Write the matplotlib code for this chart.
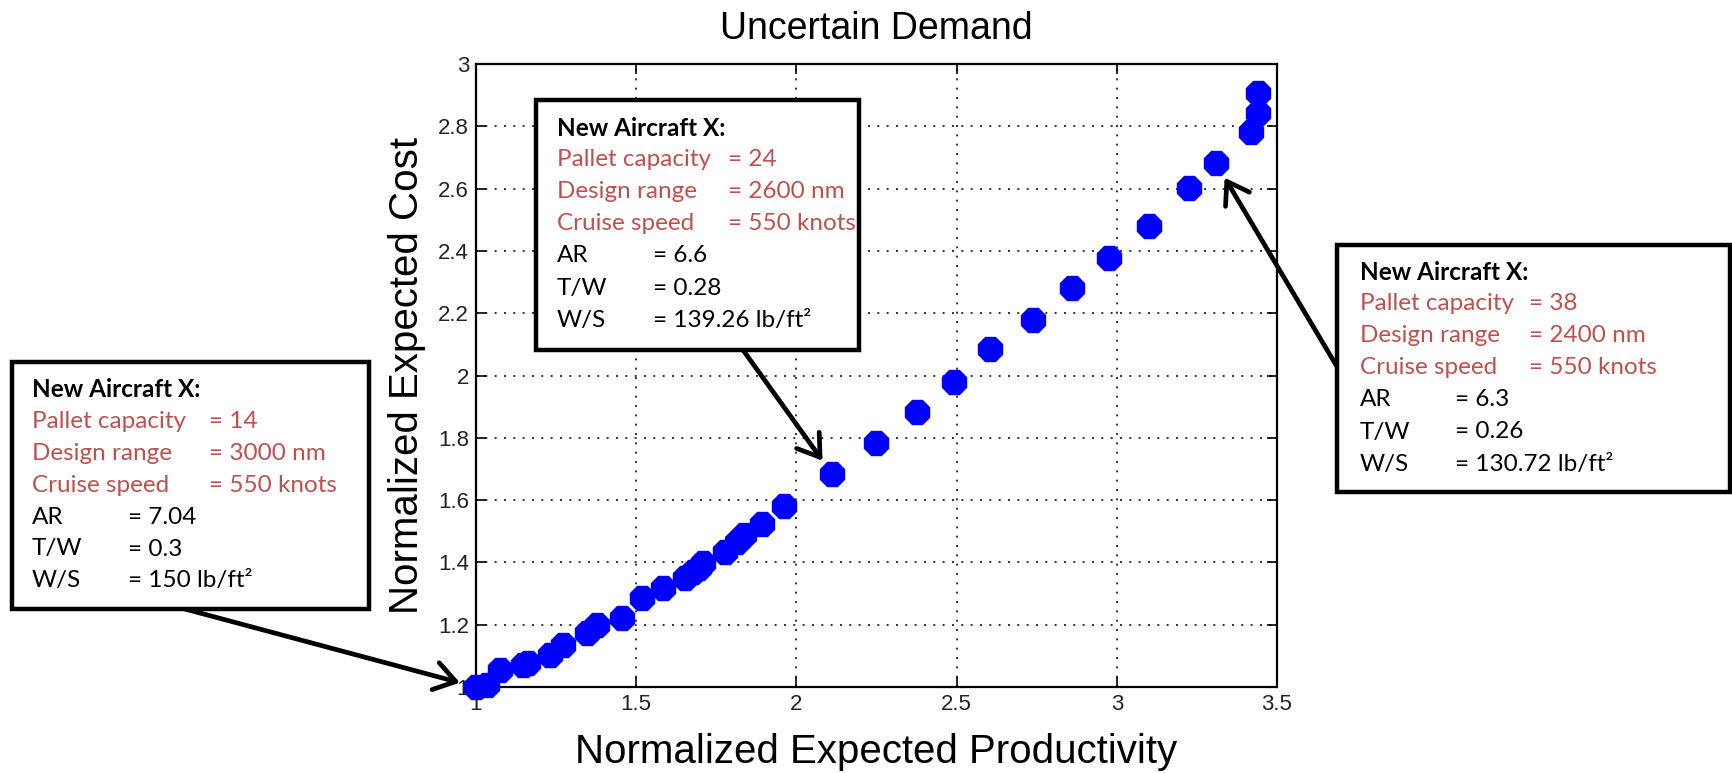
import matplotlib.pyplot as plt
from matplotlib.patches import Rectangle
from matplotlib.ticker import FuncFormatter

# design points: normalized expected productivity vs normalized expected cost
x_prod = [1.000, 1.033, 1.075, 1.148, 1.163, 1.231, 1.273, 1.346, 1.377, 1.455,
          1.517, 1.585, 1.652, 1.678, 1.695, 1.709, 1.777, 1.814, 1.835, 1.892,
          1.962, 2.112, 2.248, 2.376, 2.491, 2.605, 2.737, 2.859, 2.976, 3.100,
          3.224, 3.310, 3.418, 3.442, 3.442]
y_cost = [1.000, 1.006, 1.055, 1.071, 1.076, 1.103, 1.135, 1.172, 1.199, 1.221,
          1.285, 1.317, 1.349, 1.370, 1.383, 1.397, 1.434, 1.466, 1.488, 1.523,
          1.582, 1.683, 1.782, 1.883, 1.978, 2.084, 2.178, 2.280, 2.376, 2.479,
          2.601, 2.681, 2.783, 2.842, 2.906]

x_ticks = [1, 1.5, 2, 2.5, 3, 3.5]
y_ticks = [1, 1.2, 1.4, 1.6, 1.8, 2, 2.2, 2.4, 2.6, 2.8, 3]

# highlighted aircraft (index into the design points above)
picked = [0, 21, 31]
pallet_capacity = ["14", "24", "38"]
design_range = ["3000", "2600", "2400"]
cruise_speed = ["550", "550", "550"]
aspect_ratio = ["7.04", "6.6", "6.3"]
thrust_weight = ["0.3", "0.28", "0.26"]
wing_loading = ["150", "139.26", "130.72"]

W, H = 1733, 773
RED = "#C0504D"

def fpos(x, y):
    # pixel position (from top-left) -> figure fraction
    return x / W, 1 - y / H

fig = plt.figure(figsize=(W / 100, H / 100), dpi=100)
ax = fig.add_axes([476 / W, 1 - 687 / H, (1277 - 476) / W, (687 - 64) / H])

ax.plot(x_prod, y_cost, linestyle="none", marker="8", markersize=18,
        color="#0000FF", markeredgecolor="#0000FF", clip_on=False, zorder=3)

ax.set_xlim(1, 3.5)
ax.set_ylim(1, 3)
ax.set_xticks(x_ticks)
ax.set_yticks(y_ticks)
fmt = FuncFormatter(lambda v, p: "%g" % v)
ax.xaxis.set_major_formatter(fmt)
ax.yaxis.set_major_formatter(fmt)
ax.tick_params(direction="in", length=7, width=1.2, top=True, right=True,
               labelsize=16, pad=5, colors="black")
for lab in ax.get_xticklabels() + ax.get_yticklabels():
    lab.set_family("Liberation Sans")
    lab.set_color("#222222")
ax.grid(True, color="#333333", linestyle=(0, (1, 3.8)), linewidth=1.4)
for s in ax.spines.values():
    s.set_linewidth(1.6)
    s.set_color("black")

ax.set_title("Uncertain Demand", fontsize=27, family="Liberation Sans", pad=18)
ax.set_xlabel("Normalized Expected Productivity", fontsize=29,
              family="Liberation Sans", labelpad=13)
ax.set_ylabel("Normalized Expected Cost", fontsize=29,
              family="Liberation Sans", labelpad=9)

# callout boxes: (left, top, right, bottom), text x, '=' column for red / black rows,
# first line y, arrow start
boxes = [
    ((12, 362, 369, 609), 32, 209, 128, 389, (185, 609)),
    ((536, 100, 859, 350), 557, 728, 653, 128, (743, 350)),
    ((1337, 245, 1730, 492), 1360, 1529, 1455, 272, (1339, 370)),
]
step = 32
fs = 17.5
font = "Lato"

for k, (rect, tx, eq_red, eq_blk, y0, start) in enumerate(boxes):
    l, t, r, b = rect
    x0, y1 = fpos(l, b)
    fig.add_artist(Rectangle((x0, y1), (r - l) / W, (b - t) / H,
                             transform=fig.transFigure, facecolor="white",
                             edgecolor="black", linewidth=3.2, zorder=5))
    fig.text(*fpos(tx, y0), "New Aircraft X:", fontsize=fs, fontweight="bold",
             family=font, va="center", zorder=6)
    rows = [
        ("Pallet capacity", "= " + pallet_capacity[k], RED, eq_red),
        ("Design range", "= " + design_range[k] + " nm", RED, eq_red),
        ("Cruise speed", "= " + cruise_speed[k] + " knots", RED, eq_red),
        ("AR", "= " + aspect_ratio[k], "black", eq_blk),
        ("T/W", "= " + thrust_weight[k], "black", eq_blk),
        ("W/S", "= " + wing_loading[k] + " lb/ft\u00b2", "black", eq_blk),
    ]
    for i, (name, val, col, ex) in enumerate(rows):
        y = y0 + step * (i + 1)
        fig.text(*fpos(tx, y), name, fontsize=fs, family=font, color=col,
                 va="center", zorder=6)
        fig.text(*fpos(ex, y), val, fontsize=fs, family=font, color=col,
                 va="center", zorder=6)

    j = picked[k]
    ax.annotate("", xy=(x_prod[j], y_cost[j]), xycoords="data",
                xytext=fpos(*start), textcoords="figure fraction",
                annotation_clip=False, zorder=7,
                arrowprops=dict(arrowstyle="->,head_length=0.75,head_width=0.5",
                                mutation_scale=20, lw=3.4, color="black",
                                shrinkA=0, shrinkB=12))

fig.savefig("out.png", dpi=100)
